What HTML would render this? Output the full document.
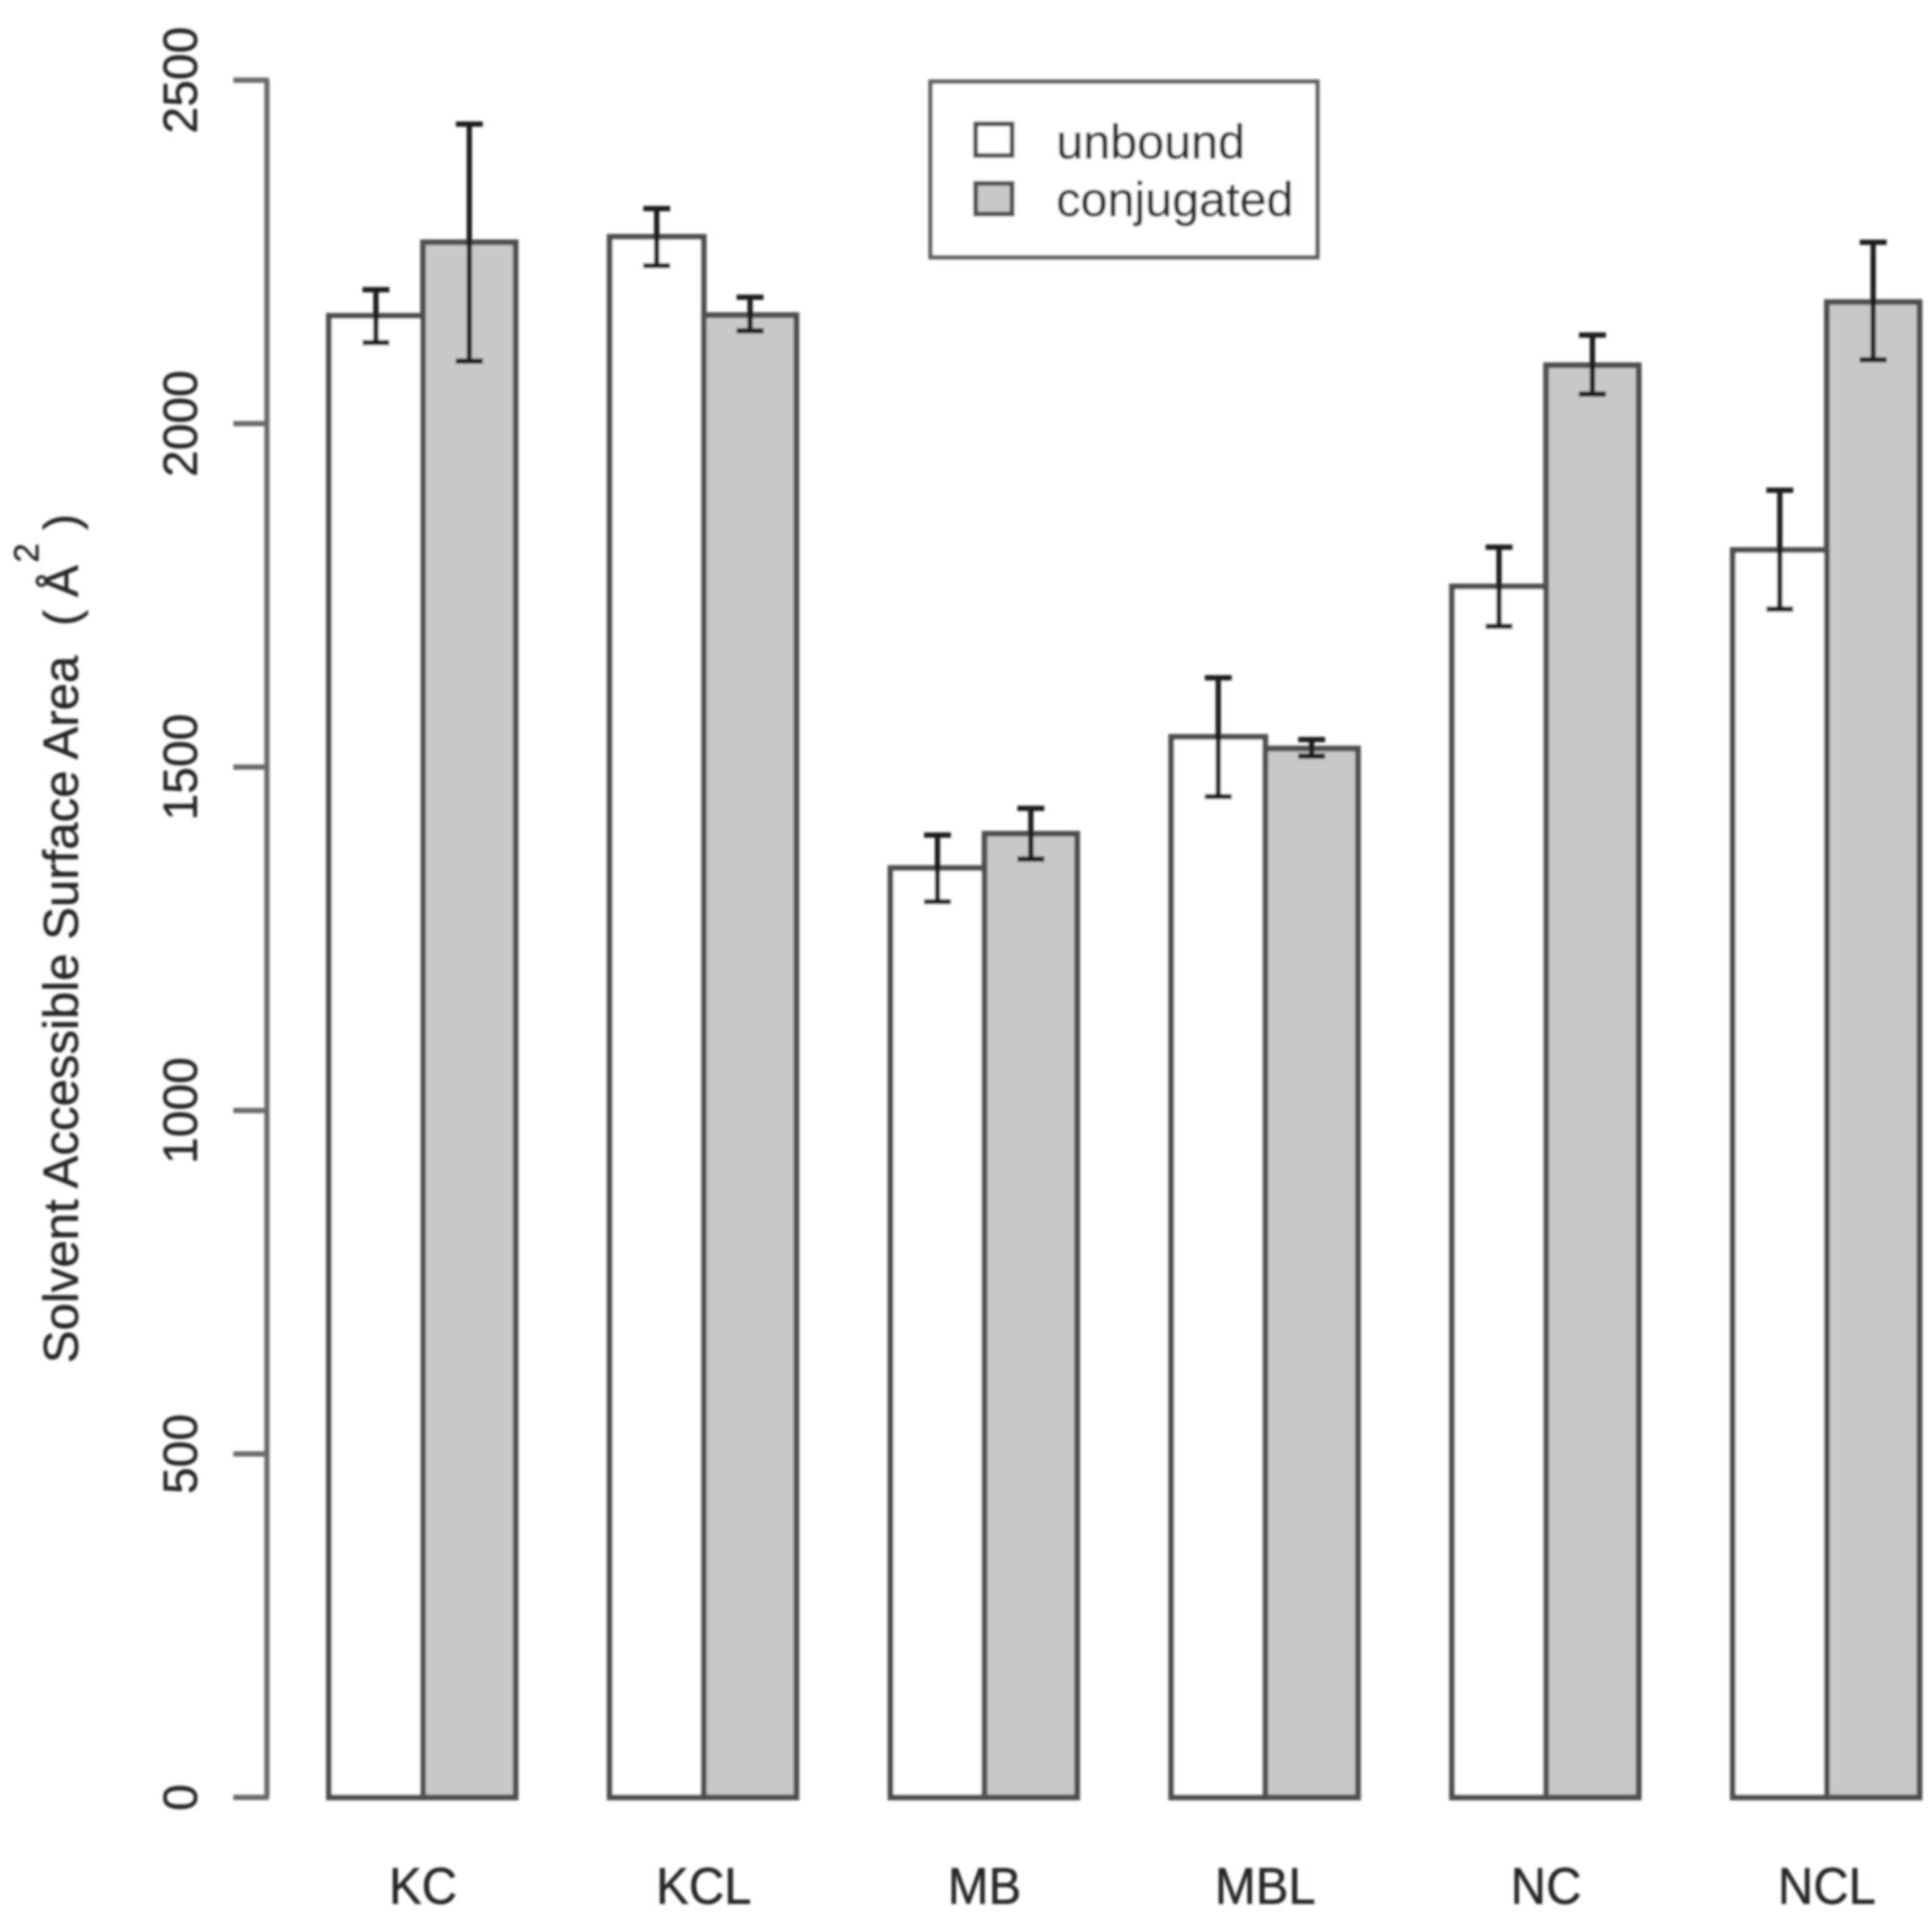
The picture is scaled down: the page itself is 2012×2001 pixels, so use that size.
<!DOCTYPE html>
<html>
<head>
<meta charset="utf-8">
<title>Solvent Accessible Surface Area</title>
<style>
html,body{margin:0;padding:0;background:#fff;}
svg{display:block;}
text{font-family:"Liberation Sans",sans-serif;fill:#262626;stroke:#262626;stroke-width:0.5px;}
</style>
</head>
<body>
<svg id="chart" width="2012" height="2001" viewBox="0 0 2012 2001" xmlns="http://www.w3.org/2000/svg">
  <defs><filter id="soft" x="-5%" y="-5%" width="110%" height="110%"><feGaussianBlur stdDeviation="1.2"/></filter></defs>
  <rect width="2012" height="2001" fill="#fff"/>
  <g id="plot" filter="url(#soft)">
    <g id="bars"></g>
    <g id="errors"></g>
    <g id="axis"></g>
    <g id="xlabels"></g>
    <g>
      <text transform="translate(81,1420) rotate(-90)" font-size="51.2">Solvent Accessible Surface Area</text>
      <text transform="translate(81,652) rotate(-90)" font-size="50">(</text>
      <text transform="translate(81,622) rotate(-90)" font-size="50">Å</text>
      <text transform="translate(40,586) rotate(-90)" font-size="36">2</text>
      <text transform="translate(81,552) rotate(-90)" font-size="50">)</text>
    </g>
    <g>
      <rect x="969" y="85" width="403" height="183" fill="#fff" stroke="#5e5e5e" stroke-width="4.5"/>
      <rect x="1016" y="129" width="38" height="33" fill="#fff" stroke="#4e4e4e" stroke-width="5"/>
      <rect x="1016" y="191" width="38" height="32" fill="#c8c8c8" stroke="#4e4e4e" stroke-width="5"/>
      <text x="1100" y="165" font-size="50.5">unbound</text>
      <text x="1100" y="225" font-size="50.5">conjugated</text>
    </g>
  </g>
</svg>
<script>
const categories = ["KC", "KCL", "MB", "MBL", "NC", "NCL"];
const unbound = [2157, 2272, 1353, 1544, 1763, 1816];
const unboundUpper = [2195, 2313, 1401, 1630, 1820, 1903];
const unboundLower = [2118, 2230, 1304, 1457, 1705, 1730];
const conjugated = [2264, 2158, 1403, 1527, 2085, 2177];
const conjugatedUpper = [2436, 2184, 1440, 1540, 2129, 2264];
const conjugatedLower = [2091, 2135, 1366, 1516, 2043, 2093];
const yTicks = [0, 500, 1000, 1500, 2000, 2500];

const NS = "http://www.w3.org/2000/svg";
const baseY = 1872.3, topY = 83.5, yMax = 2500;
const groupX0 = 342.5, groupStep = 292.4, barW = 98, conjW = 96.5;
function y(v) { return baseY - v * (baseY - topY) / yMax; }
function barX(group, series) { return groupX0 + group * groupStep + series * barW; }
function make(parent, tag, attrs) {
  const el = document.createElementNS(NS, tag);
  for (const k in attrs) el.setAttribute(k, attrs[k]);
  parent.appendChild(el);
  return el;
}
const barsG = document.getElementById("bars");
const errG = document.getElementById("errors");
const axisG = document.getElementById("axis");
const labG = document.getElementById("xlabels");

function drawBar(i, s, v, w, fill) {
  const r = make(barsG, "rect", {x: barX(i, s), y: y(v), width: w, height: y(0) - y(v), fill: fill, stroke: "#505050", "stroke-width": 6});
  
  
}
function drawErr(i, s, w, up, lo) {
  const cx = barX(i, s) + w / 2;
  const g = make(errG, "path", {d: "M" + (cx - 14) + " " + y(up) + "H" + (cx + 14) + "M" + cx + " " + y(up) + "V" + y(lo) + "M" + (cx - 14) + " " + y(lo) + "H" + (cx + 14), fill: "none", stroke: "#1a1a1a", "stroke-width": 5.5});
  
  
}
categories.forEach(function (c, i) {
  drawBar(i, 0, unbound[i], barW, "#fff");
  drawBar(i, 1, conjugated[i], conjW, "#c8c8c8");
});
categories.forEach(function (c, i) {
  drawErr(i, 0, barW, unboundUpper[i], unboundLower[i]);
  drawErr(i, 1, conjW, conjugatedUpper[i], conjugatedLower[i]);
  const t = make(labG, "text", {transform: "translate(" + barX(i, 1) + ",1983) scale(1,1.06)", "text-anchor": "middle", "font-size": 51});
  
  
  t.textContent = c;
});
const axisLine = make(axisG, "line", {x1: 278, x2: 278, y1: y(yTicks[0]) , y2: y(yTicks[yTicks.length - 1]), stroke: "#6a6a6a", "stroke-width": 5.5});


yTicks.forEach(function (v) {
  const tick = make(axisG, "line", {x1: 243, x2: 280, y1: y(v), y2: y(v), stroke: "#6a6a6a", "stroke-width": 5.5});
  
  
  const lab = make(axisG, "text", {transform: "translate(205," + y(v) + ") rotate(-90)", "text-anchor": "middle", "font-size": 50});
  
  
  lab.textContent = v;
});
</script>
</body>
</html>
